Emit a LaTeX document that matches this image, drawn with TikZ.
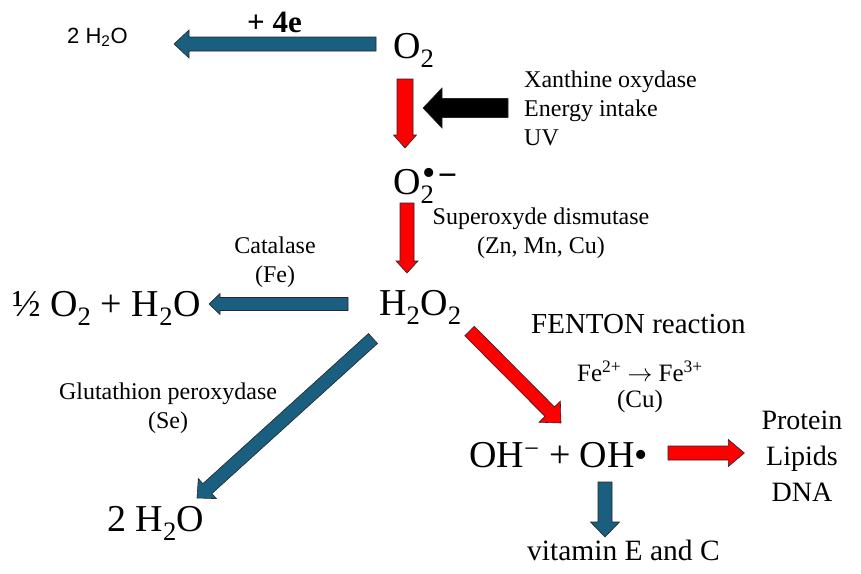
\documentclass[tikz,border=0pt]{standalone}
\usepackage{fontspec}
\setmainfont{Liberation Serif}
\newfontfamily\sansf{Liberation Sans}
\usepackage{tikz}
\usetikzlibrary{calc,positioning}

\definecolor{arrblue}{HTML}{1A5F7F}
\definecolor{arrred}{HTML}{FF0000}

% fat arrow: [style]{from}{to}{half shaft}{half head}{head length}
\newcommand{\fatarrow}[6][]{%
  \coordinate (fa-a) at (#2);
  \coordinate (fa-b) at (#3);
  \coordinate (fa-c) at ($(fa-b)!#6!(fa-a)$);
  \draw[fatline,#1] ($(fa-a)!#4!90:(fa-b)$) -- ($(fa-c)!#4!90:(fa-b)$)
    -- ($(fa-c)!#5!90:(fa-b)$) -- (fa-b) -- ($(fa-c)!#5!-90:(fa-b)$)
    -- ($(fa-c)!#4!-90:(fa-b)$) -- ($(fa-a)!#4!-90:(fa-b)$) -- cycle;}

\begin{document}
\begin{tikzpicture}[x=1pt,y=-1pt,
    species/.style={inner sep=0pt, anchor=base west, font=\fontsize{38}{40}\selectfont},
    note/.style={inner sep=0pt, align=center, font=\fontsize{24}{29}\selectfont},
    fatline/.style={draw=black!85, line width=0.6pt, line join=miter}]
    \useasboundingbox (0,0) rectangle (861,573);

        \node[species, font=\sansf\fontsize{22}{24}\selectfont] (wat1) at (67,43) {2 H\textsubscript{2}O};
        \node[inner sep=0pt, anchor=base west, font=\bfseries\fontsize{31}{33}\selectfont] (plus4e) at (247,32) {+ 4e};
        \node[species] (oxy) at (393,58) {O\textsubscript{2}};
        \node[note, align=left, anchor=west] (src) at (524,108) {Xanthine oxydase\\Energy intake\\UV};
        \node[species] (supox) at (393,194) {O\rlap{\textsubscript{2}}\kern2pt\raisebox{9pt}{•}\kern2pt\raisebox{8pt}{\fontsize{34}{34}\bfseries\selectfont −}};
        \node[note] (sod) at (541,233) {Superoxyde dismutase\\(Zn, Mn, Cu)};
        \node[note] (cat) at (275,262) {Catalase\\(Fe)};
        \node[species] (halfox) at (12,316) {½ O\textsubscript{2} + H\textsubscript{2}O};
        \node[species] (perox) at (379,315) {H\textsubscript{2}O\textsubscript{2}};
        \node[species, font=\fontsize{29}{31}\selectfont] (fenton) at (531,333) {FENTON reaction};
        \node[note, font=\fontsize{25}{26}\selectfont] (fe) at (640,387) {Fe\textsuperscript{2+} $\rightarrow$ Fe\textsuperscript{3+}\\(Cu)};
        \node[note] (glut) at (168,408) {Glutathion peroxydase\\(Se)};
        \node[species] (wat2) at (107,531) {2 H\textsubscript{2}O};
        \node[species] (hyd) at (469,467) {OH\textsuperscript{−} + OH•};
        \node[note, font=\fontsize{28}{36}\selectfont] (targets) at (802,456.5) {Protein\\Lipids\\DNA};
        \node[species, font=\fontsize{29.5}{31}\selectfont] (vit) at (527,560) {vitamin E and C};

        \fatarrow[fill=arrblue]{$(oxy.base west)+(-17,-14)$}{$(wat1.base west)+(107,1)$}{7pt}{14pt}{15pt}
        \fatarrow[fill=arrred]{$(oxy.base west)+(12,21)$}{$(supox.base west)+(12,-46)$}{8pt}{11.5pt}{13pt}
        \fatarrow[fill=black]{$(src.west)+(-16,0)$}{$(src.west)+(-101,0)$}{9.5pt}{20pt}{19pt}
        \fatarrow[fill=arrred]{$(supox.base west)+(14,9)$}{$(perox.base west)+(28,-42)$}{7pt}{11pt}{12pt}
        \fatarrow[fill=arrblue]{$(perox.base west)+(-31,-11)$}{$(halfox.base west)+(197,-12)$}{6.5pt}{10.5pt}{11pt}
        \fatarrow[fill=arrred]{$(perox.base west)+(90.5,16)$}{$(hyd.base west)+(92,-44)$}{6.7pt}{15pt}{16pt}
        \fatarrow[fill=arrblue]{$(perox.base west)+(-6,23.5)$}{$(wat2.base west)+(90,-33)$}{6.7pt}{13.5pt}{14pt}
        \fatarrow[fill=arrred]{$(hyd.base west)+(199,-14)$}{$(targets.west)+(-17,-3.5)$}{7pt}{13.5pt}{16pt}
        \fatarrow[fill=arrblue]{$(hyd.base west)+(136,15)$}{$(vit.base west)+(78,-23)$}{7pt}{14.5pt}{15pt}
    \end{tikzpicture}
\end{document}
